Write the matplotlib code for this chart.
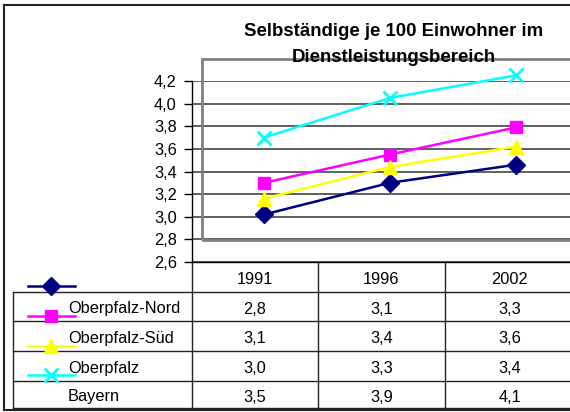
import matplotlib.pyplot as plt
from matplotlib.lines import Line2D
from matplotlib.patches import Rectangle

plt.rcParams['font.family'] = ['Liberation Sans', 'DejaVu Sans']

# Data
years = ["1991", "1996", "2002"]
series_names = ["", "Oberpfalz-Nord", "Oberpfalz-Süd", "Oberpfalz", "Bayern"]
colors = ["#000080", "#FF00FF", "#FFFF00", "#00FFFF"]
markers = ["D", "s", "^", "x"]

# plotted lines (as they appear in the chart)
navy_line = [3.02, 3.30, 3.46]
magenta_line = [3.30, 3.55, 3.79]
yellow_line = [3.16, 3.44, 3.62]
cyan_line = [3.70, 4.05, 4.25]
lines_data = [navy_line, magenta_line, yellow_line, cyan_line]

# values shown in the data table
table_nord = [2.8, 3.1, 3.3]
table_sued = [3.1, 3.4, 3.6]
table_opf = [3.0, 3.3, 3.4]
table_bayern = [3.5, 3.9, 4.1]
table_rows = [table_nord, table_sued, table_opf, table_bayern]

W, H = 570, 412
FS = 11.8
MS = {"D": 9, "s": 9, "^": 10, "x": 10}
fig = plt.figure(figsize=(W / 100, H / 100), dpi=100)


def fx(px):
    return px / W


def fy(py):
    return 1 - py / H


def hline(x0, x1, y, **kw):
    fig.add_artist(Line2D([fx(x0), fx(x1)], [fy(y), fy(y)], **kw))


def vline(x, y0, y1, **kw):
    fig.add_artist(Line2D([fx(x), fx(x)], [fy(y0), fy(y1)], **kw))


# outer frame
hline(3.5, W + 5, 5, color="#222222", lw=1.5)
hline(3.5, W + 5, 410, color="#222222", lw=1.5)
vline(3.5, 5, 410, color="#222222", lw=1.5)

# main axes
ax = fig.add_axes([fx(192), fy(262), (W - 192) / W, (262 - 81) / H])
ax.patch.set_alpha(0)
ax.set_ylim(2.6, 4.2)
ax.set_xlim(-72 / 126, (W - 264) / 126)
yt = [2.6, 2.8, 3.0, 3.2, 3.4, 3.6, 3.8, 4.0, 4.2]
ax.set_yticks(yt)
ax.set_yticklabels([f"{v:.1f}".replace(".", ",") for v in yt], fontsize=FS)
ax.set_xticks([])
ax.tick_params(axis="y", direction="out", length=6, width=1, pad=5)
for s in ["top", "right"]:
    ax.spines[s].set_visible(False)
ax.spines["left"].set_linewidth(1)
ax.spines["bottom"].set_linewidth(1)
ax.yaxis.grid(True, color="#444444", lw=1.2)
ax.set_axisbelow(True)

# gray plot-area box
fig.add_artist(Rectangle((fx(202), fy(240)), fx(W + 20) - fx(202), fy(59) - fy(240),
                         fill=False, edgecolor="#808080", lw=2, zorder=1))

x = list(range(len(years)))
for vals, c, m in zip(lines_data, colors, markers):
    ax.plot(x, vals, color=c, marker=m, ms=MS[m], lw=1.8, mew=2 if m == "x" else 1,
            clip_on=False, zorder=3)

# title
fig.text(fx(394), fy(32), "Selbständige je 100 Einwohner im", ha="center", va="center",
         fontsize=13.4, fontweight="bold", zorder=5)
fig.text(fx(394), fy(57), "Dienstleistungsbereich", ha="center", va="center",
         fontsize=13.4, fontweight="bold", zorder=5)

# data table
row_lines = [292, 321, 351, 381, 408]
col_lines = [192, 318, 445, W + 5]
for y in row_lines:
    hline(13, W + 5, y, color="#222222", lw=1)
vline(13, 292, 408, color="#222222", lw=1)
vline(192, 262, 408, color="#222222", lw=1)
for cx in col_lines[1:3]:
    vline(cx, 262, 408, color="#222222", lw=1)

for j, yr in enumerate(years):
    cx = (col_lines[j] + col_lines[j + 1]) / 2
    fig.text(fx(cx), fy(279), yr, ha="center", va="center", fontsize=FS)

tops = [262] + row_lines
for i, vals in enumerate(table_rows):
    cy = (tops[i + 1] + tops[i + 2]) / 2 + 2.5
    fig.text(fx(68), fy(cy), series_names[i + 1], ha="left", va="center", fontsize=FS)
    for j, v in enumerate(vals):
        cx = (col_lines[j] + col_lines[j + 1]) / 2
        fig.text(fx(cx), fy(cy), f"{v:.1f}".replace(".", ","), ha="center", va="center",
                 fontsize=FS)

# legend keys in the table
key_y = [286, 316, 346, 375]
for ky, c, m in zip(key_y, colors, markers):
    fig.add_artist(Line2D([fx(28), fx(75)], [fy(ky), fy(ky)], color=c, lw=1.8))
    fig.add_artist(Line2D([fx(51)], [fy(ky)], color=c, marker=m, ms=MS[m],
                          mew=2 if m == "x" else 1))

fig.savefig("out.png", dpi=100)
